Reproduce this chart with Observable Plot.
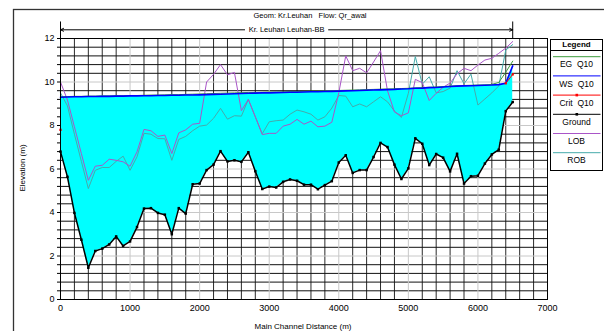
<!DOCTYPE html>
<html><head><meta charset="utf-8">
<script src="https://cdn.jsdelivr.net/npm/d3@7"></script>
<script src="https://cdn.jsdelivr.net/npm/@observablehq/plot@0.6"></script>
<style>
html,body{margin:0;padding:0;background:#fff;}
#chart{position:relative;width:604px;height:331px;overflow:hidden;}
svg{font-family:Arial,"Liberation Sans",sans-serif;}
</style></head><body><div id="chart"></div>
<script>
const titleText = "Geom: Kr.Leuhan   Flow: Qr_awal";
const riverName = "Kr. Leuhan Leuhan-BB";
const xTitle = "Main Channel Distance (m)";
const yTitle = "Elevation (m)";
const legendItems = ["EG  Q10", "WS  Q10", "Crit  Q10", "Ground", "LOB", "ROB"];

const stations = [0,100,200,300,400,500,600,700,800,900,1000,1100,1200,1300,1400,1500,1600,1700,1800,1900,
 2000,2100,2200,2300,2400,2500,2600,2700,2800,2900,3000,3100,3200,3300,3400,3500,3600,3700,3800,3900,
 4000,4100,4200,4300,4400,4500,4600,4700,4800,4900,5000,5100,5200,5300,5400,5500,5600,5700,5800,5900,
 6000,6100,6200,6300,6400,6500];
const ground = [6.8,5.64,3.98,2.75,1.46,2.23,2.34,2.53,2.9,2.46,2.67,3.33,4.18,4.2,3.98,3.9,3.0,4.2,3.95,5.3,
 5.33,5.95,6.2,6.82,6.35,6.4,6.33,6.77,5.9,5.08,5.19,5.15,5.41,5.52,5.46,5.28,5.28,5.07,5.26,5.44,
 6.3,6.63,5.82,5.95,5.95,6.55,7.2,7.01,6.2,5.54,6.03,7.41,7.16,6.18,6.69,6.52,5.89,6.7,5.33,5.67,
 5.69,6.25,6.67,6.89,8.66,9.08];
const ws = [9.30,9.31,9.32,9.32,9.33,9.33,9.34,9.34,9.35,9.35,9.36,9.36,9.37,9.37,9.38,9.38,9.39,9.39,9.40,9.40,
 9.41,9.42,9.43,9.44,9.45,9.46,9.47,9.48,9.49,9.50,9.50,9.51,9.52,9.53,9.53,9.54,9.55,9.55,9.56,9.57,
 9.58,9.59,9.60,9.61,9.62,9.63,9.64,9.65,9.66,9.68,9.69,9.71,9.72,9.74,9.75,9.77,9.79,9.81,9.82,9.83,
 9.84,9.85,9.86,9.88,9.94,10.74];
const eg = [9.32,9.33,9.34,9.34,9.35,9.35,9.36,9.36,9.37,9.37,9.38,9.38,9.39,9.40,9.40,9.41,9.42,9.42,9.43,9.44,
 9.45,9.46,9.47,9.48,9.49,9.50,9.51,9.52,9.52,9.53,9.54,9.54,9.55,9.56,9.56,9.57,9.58,9.58,9.59,9.60,
 9.61,9.62,9.63,9.64,9.65,9.66,9.67,9.68,9.69,9.70,9.71,9.73,9.74,9.76,9.77,9.79,9.81,9.83,9.84,9.85,
 9.86,9.87,9.89,9.98,10.45,10.96];
const crit = [7.8,null,null,null,null,null,null,null,null,null,null,null,null,null,null,null,null,null,null,null,
 null,null,null,null,null,null,null,null,null,null,null,null,null,null,null,null,null,null,null,null,
 null,null,null,null,null,null,null,null,null,null,null,null,null,null,null,null,null,null,null,null,
 null,null,null,null,9.94,10.35];
const lob = [10.0,9.17,7.94,6.71,5.48,6.13,6.17,6.45,6.4,6.33,6.13,6.79,7.82,7.76,7.5,7.56,6.71,7.66,7.8,8.06,
 8.1,10.0,10.35,10.8,10.33,10.44,8.68,9.2,8.4,7.58,7.64,7.64,7.97,8.06,8.28,8.06,8.2,7.94,7.97,8.15,
 9.5,11.2,10.52,10.63,10.42,10.92,11.44,9.6,8.62,8.45,8.58,10.12,9.97,9.15,9.48,9.76,9.95,10.38,10.63,10.52,
 10.78,11.01,11.09,11.32,11.56,11.86];
const rob = [9.5,8.9,7.6,6.35,5.1,5.94,6.07,6.07,6.35,6.59,5.94,6.56,7.64,7.6,7.4,7.39,6.4,7.36,7.5,7.76,
 7.97,8.02,8.33,8.79,8.29,8.45,8.43,9.2,8.4,7.62,8.17,8.22,8.25,8.52,8.71,8.63,8.52,8.25,8.4,8.8,
 9.38,9.35,8.86,8.99,8.86,9.09,9.32,9.09,8.66,8.37,9.48,11.17,9.9,10.24,9.5,9.56,9.72,10.52,9.92,10.36,
 8.94,9.22,9.5,9.82,11.47,11.72];

const xMajor = [0,1000,2000,3000,4000,5000,6000,7000];
const yMajor = [0,2,4,6,8,10,12];
const xMinor = [0,200,400,600,800,1000,1200,1400,1600,1800,2000,2200,2400,2600,2800,3000,3200,3400,3600,3800,4000,
 4200,4400,4600,4800,5000,5200,5400,5600,5800,6000,6200,6400,6600,6800,7000];
const yMinor = [0,0.4,0.8,1.2,1.6,2,2.4,2.8,3.2,3.6,4,4.4,4.8,5.2,5.6,6,6.4,6.8,7.2,7.6,8,8.4,8.8,9.2,9.6,10,
 10.4,10.8,11.2,11.6,12];
const markerElev = 12.76;   // top of reach-end markers
const arrowElev = 12.4;     // reach arrow line

const colors = {eg:"#3c9c3c", ws:"#0000ff", crit:"#ff0000", ground:"#000000", lob:"#a955c8", rob:"#45abab"};

const table = stations.map((d,i)=>({d, ground:ground[i], ws:ws[i], eg:eg[i], crit:crit[i], lob:lob[i], rob:rob[i]}));
const reachStart = stations[0], reachEnd = stations[stations.length-1];
const reachMid = (reachStart + reachEnd)/2;

const chart = Plot.plot({
  width:604, height:331, marginLeft:60, marginRight:57, marginTop:38, marginBottom:32,
  style:{fontFamily:"Arial, 'Liberation Sans', sans-serif", fontSize:"9px", color:"#000", background:"#fff", overflow:"visible"},
  x:{domain:[0,7000]}, y:{domain:[0,12]},
  marks:[
    Plot.ruleX(xMinor.filter(v=>!xMajor.includes(v)), {stroke:"#2a2a2a", strokeWidth:1}),
    Plot.ruleY(yMinor.filter(v=>!yMajor.includes(v)), {stroke:"#111", strokeWidth:1}),
    Plot.ruleX(xMajor, {stroke:"#c8c8c8", strokeWidth:1}),
    Plot.ruleY(yMajor, {stroke:"#c8c8c8", strokeWidth:1}),
    Plot.areaY(table, {x:"d", y1:"ground", y2:"ws", fill:"#00ffff"}),
    Plot.line(table, {x:"d", y:"rob", stroke:colors.rob, strokeWidth:1}),
    Plot.line(table, {x:"d", y:"lob", stroke:colors.lob, strokeWidth:1}),
    Plot.line(table, {x:"d", y:"eg", stroke:colors.eg, strokeWidth:1}),
    Plot.line(table, {x:"d", y:"ws", stroke:colors.ws, strokeWidth:1.6}),
    Plot.line(table, {x:"d", y:"crit", stroke:colors.crit, strokeWidth:1}),
    Plot.dot(table, {x:"d", y:"crit", symbol:"square", r:1.3, fill:colors.crit, stroke:null}),
    Plot.line(table, {x:"d", y:"ground", stroke:"#000", strokeWidth:1.5}),
    Plot.dot(table, {x:"d", y:"ground", symbol:"square", r:1.4, fill:"#000", stroke:null}),
    Plot.frame({stroke:"#000", strokeWidth:1}),
    Plot.ruleX([reachStart, reachEnd], {y1:12, y2:markerElev, stroke:"#000", strokeWidth:1}),
    Plot.arrow([reachStart, reachEnd], {x1:()=>reachMid, x2:d=>d, y1:arrowElev, y2:arrowElev, insetStart:42, headLength:5, headAngle:50, stroke:"#000", strokeWidth:1}),
    Plot.text([riverName], {x:()=>reachMid, y:arrowElev, text:d=>d, fontSize:7.5, fill:"#000"}),
    Plot.axisY(yMinor, {tickSize:3, tickFormat:()=>"", label:null}),
    Plot.axisY(yMajor, {tickSize:0, tickPadding:6, tickFormat:d=>String(d), fontSize:9, label:null}),
    Plot.axisX(xMajor, {tickSize:0, tickPadding:5, tickFormat:d=>String(d), fontSize:9, label:null})
  ]
});
document.getElementById("chart").appendChild(chart);

const svg = d3.select(chart);
// outer border
svg.append("rect").attr("x",13.5).attr("y",9.5).attr("width",620).attr("height",340)
  .attr("fill","none").attr("stroke","#333").attr("stroke-width",1.3);
// title
svg.append("text").attr("x",310).attr("y",16).attr("text-anchor","middle").attr("dominant-baseline","middle")
  .attr("font-size",7.5).text(titleText);
// axis titles
svg.append("text").attr("transform","translate(23,168) rotate(-90)").attr("text-anchor","middle")
  .attr("dominant-baseline","middle").attr("font-size",8).text(yTitle);
svg.append("text").attr("x",303).attr("y",327).attr("text-anchor","middle").attr("dominant-baseline","middle")
  .attr("font-size",8).text(xTitle);
// legend
const lg = svg.append("g");
lg.append("rect").attr("x",550.5).attr("y",39.5).attr("width",52).attr("height",131)
  .attr("fill","#fff").attr("stroke","#000").attr("stroke-width",1);
lg.append("text").attr("x",576.5).attr("y",44.5).attr("text-anchor","middle").attr("dominant-baseline","middle")
  .attr("font-size",8).attr("font-weight","bold").text("Legend");
lg.append("line").attr("x1",550.5).attr("x2",602.5).attr("y1",50.5).attr("y2",50.5).attr("stroke","#000");
const legColors = [colors.eg, colors.ws, colors.crit, colors.ground, colors.lob, colors.rob];
const legDot = [false,false,true,true,false,false];
legendItems.forEach((t,i)=>{
  const ly = 56.7 + i*19.2;
  lg.append("line").attr("x1",553).attr("x2",600.5).attr("y1",ly).attr("y2",ly)
    .attr("stroke",legColors[i]).attr("stroke-width",1);
  if (legDot[i]) lg.append("rect").attr("x",575.5).attr("y",ly-1.3).attr("width",2.6).attr("height",2.6).attr("fill",legColors[i]);
  lg.append("text").attr("x",576.5).attr("y",ly+8.5).attr("text-anchor","middle").attr("dominant-baseline","middle")
    .attr("font-size",8.5).text(t);
});
</script></body></html>
